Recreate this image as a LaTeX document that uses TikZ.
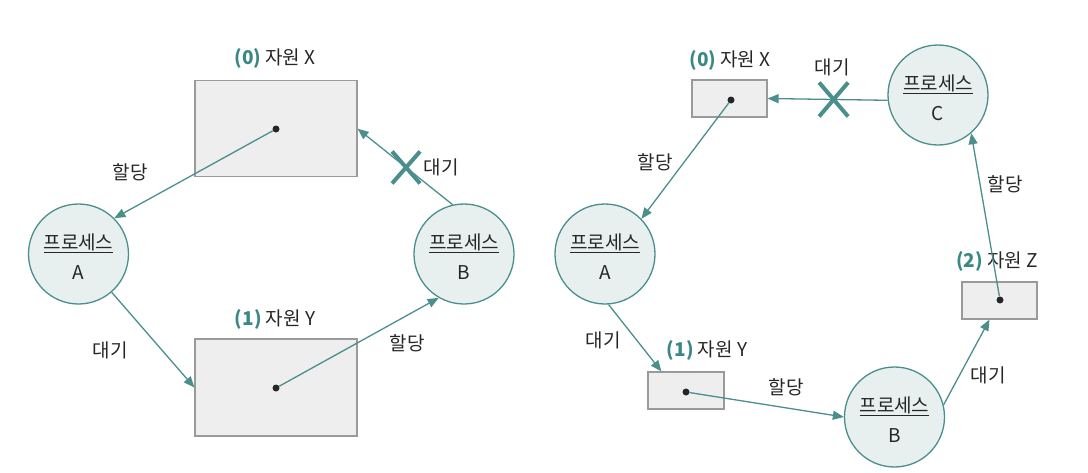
\documentclass[tikz,border=0pt]{standalone}
\usepackage{fontspec}
\setmainfont{Noto Sans CJK KR}
\usetikzlibrary{arrows.meta,calc}
\definecolor{teal1}{HTML}{4A8F8C}
\definecolor{tealtxt}{HTML}{3A8884}
\definecolor{procfill}{HTML}{E7F0EF}
\definecolor{resfill}{HTML}{EEEEEE}
\definecolor{resline}{HTML}{9A9A9A}
\definecolor{txt}{HTML}{262626}
\newcommand{\num}[1]{{\color{tealtxt}\bfseries(#1)}}
\newcommand{\ptext}[1]{\raisebox{-4pt}[\height][\depth]{\begin{tabular}{@{}c@{}}\underline{프로세스}\\#1\end{tabular}}}
\begin{document}
\begin{tikzpicture}[x=1pt,y=-1pt,
  proc/.style={circle, draw=teal1, fill=procfill, line width=1.3pt, minimum size=100pt, inner sep=0pt, font=\fontsize{19}{30}\selectfont, text=txt},
  res/.style={draw=resline, fill=resfill, line width=1.2pt, inner sep=0pt},
  dotn/.style={circle, fill=txt, minimum size=7pt, inner sep=0pt},
  lbl/.style={font=\fontsize{19}{22}\selectfont, text=txt, inner sep=0pt},
  edge/.style={draw=teal1, line width=1.3pt, -{Triangle[length=11pt,width=9pt]}},
  crossx/.style={draw=teal1, line width=4pt},
]
\useasboundingbox (0,0) rectangle (1088,472);

% ---------------- left diagram ----------------
\node[res, minimum width=162pt, minimum height=96pt] (xb) at (276,128.7) {};
\node[res, minimum width=162pt, minimum height=97pt] (yb) at (276,387.5) {};
\node[dotn] (xd) at (276,129) {};
\node[dotn] (yd) at (276,388) {};
\node[proc] (A) at (78.5,254) {\ptext{A}};
\node[proc] (B) at (464,254) {\ptext{B}};

\node[lbl] (lx) at (275,58) {\num{0} 자원 X};
\node[lbl] (ly) at (275,319) {\num{1} 자원 Y};

\draw[edge] (xd) -- (A.45);
\draw[edge] (A) -- (yb.west);
\draw[edge] (yd) -- (B.240);
\draw[edge] (B.103) -- (xb.east) coordinate[pos=0.49] (c1);
\draw[crossx] ($(c1)+(-14,-16)$) -- ($(c1)+(14,16)$);
\draw[crossx] ($(c1)+(14,-16)$) -- ($(c1)+(-14,16)$);

\node[lbl] (l1) at (130,172) {할당};
\node[lbl] (l2) at (110,350) {대기};
\node[lbl] (l3) at (407,343) {할당};
\node[lbl] (l4) at (441,167) {대기};

% ---------------- right diagram ----------------
\node[res, minimum width=75pt, minimum height=37pt] (xb2) at (729.5,98.5) {};
\node[res, minimum width=76pt, minimum height=37pt] (yb2) at (686,390.5) {};
\node[res, minimum width=75pt, minimum height=37pt] (zb) at (999.5,300.5) {};
\node[dotn] (xd2) at (731,100) {};
\node[dotn] (yd2) at (686,392) {};
\node[dotn] (zd) at (1000,300) {};
\node[proc] (A2) at (605,254) {\ptext{A}};
\node[proc] (B2) at (894.5,417) {\ptext{B}};
\node[proc] (C) at (938,95) {\ptext{C}};

\node[lbl] (rx) at (730,60) {\num{0} 자원 X};
\node[lbl] (ry) at (707,350) {\num{1} 자원 Y};
\node[lbl] (rz) at (997,261) {\num{2} 자원 Z};

\draw[edge] (xd2) -- (A2.44);
\draw[edge] (A2.274) -- ($(yb2.north west)+(14,0)$);
\draw[edge] (yd2) -- (B2.180);
\draw[edge] (B2.14) -- ($(zb.south)+(-10,0)$);
\draw[edge] (zd) -- (C.311);
\draw[edge] (C.186) -- (xb2.east) coordinate[pos=0.45] (c2);
\draw[crossx] ($(c2)+(-14.5,-17)$) -- ($(c2)+(14.5,17)$);
\draw[crossx] ($(c2)+(14.5,-17)$) -- ($(c2)+(-14.5,17)$);

\node[lbl] (r1) at (832,67) {대기};
\node[lbl] (r2) at (655,162) {할당};
\node[lbl] (r3) at (603,340) {대기};
\node[lbl] (r4) at (786,387) {할당};
\node[lbl] (r5) at (988,375) {대기};
\node[lbl] (r6) at (1005,184) {할당};
\end{tikzpicture}
\end{document}
